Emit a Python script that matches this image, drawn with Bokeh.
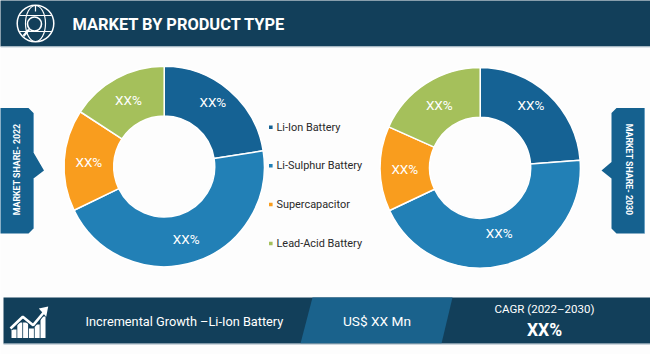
import numpy as np
from bokeh.plotting import figure
from bokeh.models import ColumnDataSource
from bokeh.core.properties import value
from bokeh.embed import file_html
from bokeh.resources import INLINE

categories = ["Li-Ion Battery", "Li-Sulphur Battery", "Supercapacitor", "Lead-Acid Battery"]
share_2022 = [22.5, 45.3, 16.4, 15.8]
share_2030 = [23.8, 44.2, 13.7, 18.3]
slice_labels = ["XX%", "XX%", "XX%", "XX%"]
colors = ["#156294", "#2280b6", "#f99d1e", "#a5c05b"]

W, H = 650, 354
NAVY = "#123f5a"
MID = "#1a628c"
TAB = "#15618f"
EDGE = "#5f9bc1"

p = figure(width=W, height=H, x_range=(0, W), y_range=(0, H), output_backend="svg",
           toolbar_location=None, min_border=0,
           background_fill_color="#fdfdfd", border_fill_color="#fdfdfd")
p.axis.visible = False
p.grid.visible = False
p.outline_line_color = None


def Y(v):
    return H - v


def poly(pts, color):
    p.patch([a for a, _ in pts], [Y(b) for _, b in pts], fill_color=color, line_color=None)


def line(pts, color="white", width=1.5):
    p.line([a for a, _ in pts], [Y(b) for _, b in pts], line_color=color, line_width=width)


def txt(x, y, s, size, color="white", font="Roboto", style="normal", align="center", angle=0.0):
    p.text([x], [Y(y)], text=[s], text_font=value(font), text_font_size=f"{size}px",
           text_font_style=style, text_color=color, text_align=align,
           text_baseline="middle", angle=angle)


# header
poly([(-2, -2), (652, -2), (652, 46), (-2, 46)], NAVY)
line([(0, 46.5), (650, 46.5)], "#c3d0d9", 1)
txt(72, 24, "MARKET BY PRODUCT TYPE", 16.4, style="bold", align="left")

# globe icon
gx, gy, gr = 35, 23, 18.3
p.circle([gx], [Y(gy)], radius=gr, fill_color=None, line_color="white", line_width=1.5)
p.ellipse([gx], [Y(gy)], width=20, height=36, fill_color=None, line_color="white", line_width=1.2)
line([(gx - 16, gy - 8), (gx + 16, gy - 8)], "white", 1.2)
line([(gx - 16, gy + 8), (gx + 16, gy + 8)], "white", 1.2)
line([(gx, gy - 18), (gx, gy - 12)], "white", 1.2)
p.circle([34], [Y(23.5)], radius=7, fill_color=NAVY, line_color="white", line_width=1.6)
line([(28.5, 29), (23, 35.5)], "white", 2.4)

# side tabs
poly([(-2, 107.5), (28, 107.5), (33, 112.5), (33, 152), (43.5, 170), (33, 178),
      (33, 228), (28, 233), (-2, 233)], TAB)
poly([(644, 107.5), (616, 107.5), (611, 112.5), (611, 161.5), (601, 170), (611, 178),
      (611, 228), (616, 233), (644, 233)], TAB)
line([(33, 112.5), (33, 152)], EDGE, 0.8)
line([(33, 178), (33, 228)], EDGE, 0.8)
line([(644, 107.5), (644, 233)], EDGE, 0.8)
txt(16.5, 169, "MARKET SHARE- 2022", 8.8, style="bold", angle=np.pi / 2)
txt(628, 169, "MARKET SHARE- 2030", 8.8, style="bold", angle=-np.pi / 2)


# donuts
def donut(cx, cy, shares, label_r, label_off):
    total = sum(shares)
    edges = np.concatenate([[0.0], np.cumsum(shares)]) / total * 2 * np.pi
    starts = np.pi / 2 - edges[:-1]
    ends = np.pi / 2 - edges[1:]
    src = ColumnDataSource(dict(x=[cx] * len(shares), y=[Y(cy)] * len(shares),
                                s=starts, e=ends, c=colors))
    p.annular_wedge(x="x", y="y", inner_radius=50.5, outer_radius=100.2, start_angle="s",
                    end_angle="e", direction="clock", fill_color="c",
                    line_color="white", line_width=1.5, source=src)
    mids = (edges[:-1] + edges[1:]) / 2
    for m, s, r, o in zip(mids, slice_labels, label_r, label_off):
        a = m + np.deg2rad(o)
        txt(cx + r * np.sin(a), cy - r * np.cos(a), s, 13.5)


donut(163.7, 166, share_2022, [81, 75.6, 75.5, 75.2], [-3.6, 0.6, 0, 0])
donut(479.7, 167.3, share_2030, [80.8, 67.7, 75.4, 75.2], [-4, -1.6, 0, 0])

# legend
legend_y = [126.7, 165.3, 204, 243]
for c, s, y in zip(colors, categories, legend_y):
    p.rect([270.3], [Y(y)], width=3.6, height=3.6, fill_color=c, line_color=None)
    txt(276, y, s, 10.9, color="#2a2a2a", align="left")

# footer
poly([(3, 297), (652, 297), (652, 343), (3, 343)], NAVY)
poly([(312, 297), (452, 297), (441, 343), (300, 343)], MID)
line([(3, 343.4), (650, 343.4)], "#7d98a9", 1)
txt(85, 321, "Incremental Growth \u2013Li-Ion Battery", 12.75, align="left")
txt(376.5, 320, "US$ XX Mn", 13.7)
txt(544, 308.3, "CAGR (2022\u20132030)", 11.5)
txt(544, 329, "XX%", 17.5, style="bold")

# growth icon
for bx, top in zip([11, 16.8, 22.6, 28.4, 34.2, 40], [329, 322, 322, 328, 324, 316]):
    poly([(bx, top), (bx + 5, top), (bx + 5, 337.5), (bx, 337.5)], "white")
trend = [(10, 328), (22.3, 316.3), (32.7, 324.7), (44, 311)]
line(trend, NAVY, 4.5)
line(trend, "white", 2.6)
poly([(47.7, 306), (38.3, 308), (45.7, 316.3)], "white")

open("out.html", "w").write(file_html(p, INLINE))
